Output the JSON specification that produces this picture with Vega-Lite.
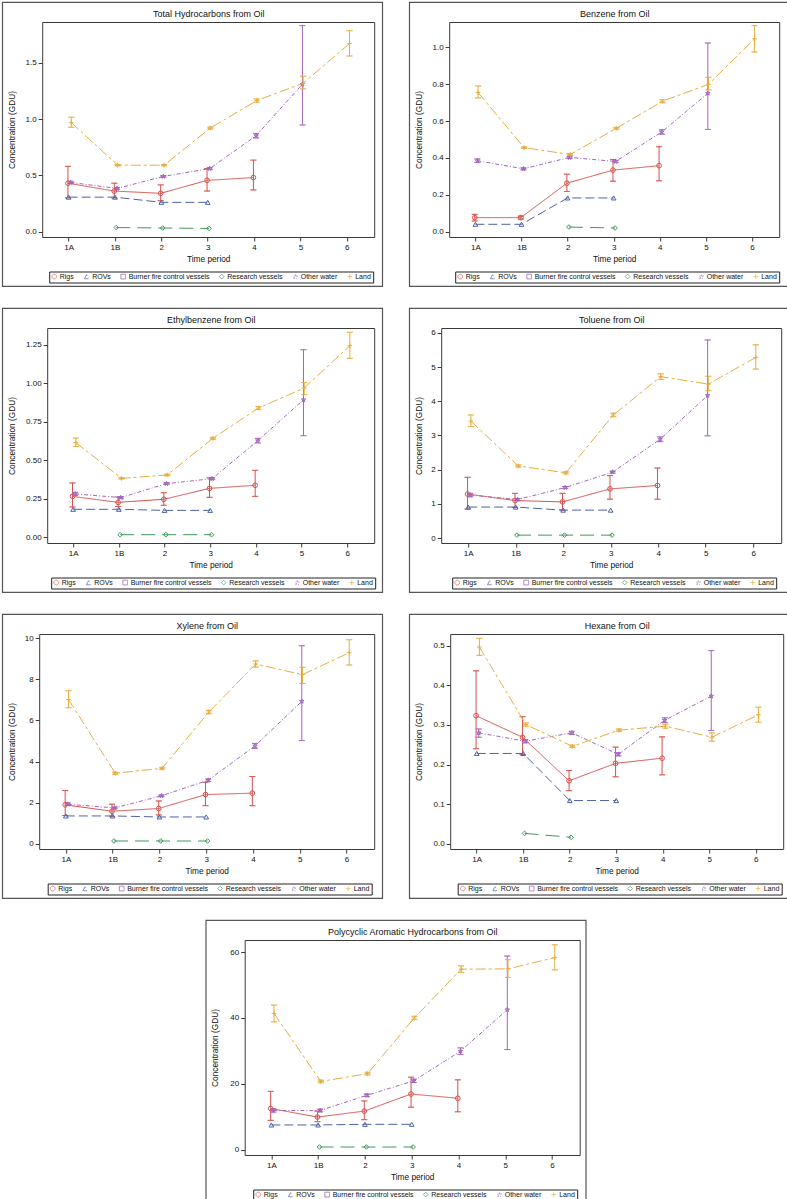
{
"$schema":"https://vega.github.io/schema/vega-lite/v6.json",
"padding":{"left":1,"top":1,"right":0,"bottom":0},
"background":"white",
"config":{
 "font":"Liberation Sans",
 "view":{"stroke":"#555","strokeWidth":1.2},
 "axis":{"labelFont":"Liberation Sans","titleFont":"Liberation Sans","labelFontSize":8,"titleFontSize":8.3,"titleFontWeight":"normal","labelColor":"#111","titleColor":"#111","domainColor":"#3a3a3a","tickColor":"#3a3a3a","tickSize":4,"labelPadding":2,"titlePadding":3,"grid":false,"domainWidth":1},
 "legend":{"labelFont":"Liberation Sans","labelFontSize":7,"labelColor":"#111"}
},
"datasets":{"rows":[
{"p":"TH","t":"1A","s":"Rigs","v":0.43,"lo":0.30,"hi":0.58},
{"p":"TH","t":"1B","s":"Rigs","v":0.36,"lo":0.30,"hi":0.43},
{"p":"TH","t":"2","s":"Rigs","v":0.34,"lo":0.275,"hi":0.415},
{"p":"TH","t":"3","s":"Rigs","v":0.455,"lo":0.36,"hi":0.56},
{"p":"TH","t":"4","s":"Rigs","v":0.48,"lo":0.37,"hi":0.635},
{"p":"TH","t":"1A","s":"ROVs","v":0.306},
{"p":"TH","t":"1B","s":"ROVs","v":0.306},
{"p":"TH","t":"2","s":"ROVs","v":0.26},
{"p":"TH","t":"3","s":"ROVs","v":0.26},
{"p":"TH","t":"1B","s":"Research vessels","v":0.036},
{"p":"TH","t":"2","s":"Research vessels","v":0.032},
{"p":"TH","t":"3","s":"Research vessels","v":0.028},
{"p":"TH","t":"1A","s":"Other water","v":0.437,"lo":0.427,"hi":0.447},
{"p":"TH","t":"1B","s":"Other water","v":0.383,"lo":0.376,"hi":0.39},
{"p":"TH","t":"2","s":"Other water","v":0.49,"lo":0.483,"hi":0.497},
{"p":"TH","t":"3","s":"Other water","v":0.56,"lo":0.552,"hi":0.568},
{"p":"TH","t":"4","s":"Other water","v":0.852,"lo":0.832,"hi":0.872},
{"p":"TH","t":"5","s":"Other water","v":1.31,"lo":0.947,"hi":1.83},
{"p":"TH","t":"1A","s":"Land","v":0.968,"lo":0.927,"hi":1.016},
{"p":"TH","t":"1B","s":"Land","v":0.59,"lo":0.584,"hi":0.596},
{"p":"TH","t":"2","s":"Land","v":0.59,"lo":0.584,"hi":0.596},
{"p":"TH","t":"3","s":"Land","v":0.92,"lo":0.912,"hi":0.928},
{"p":"TH","t":"4","s":"Land","v":1.164,"lo":1.15,"hi":1.178},
{"p":"TH","t":"5","s":"Land","v":1.318,"lo":1.268,"hi":1.38},
{"p":"TH","t":"6","s":"Land","v":1.67,"lo":1.56,"hi":1.785},

{"p":"BZ","t":"1A","s":"Rigs","v":0.076,"lo":0.058,"hi":0.094},
{"p":"BZ","t":"1B","s":"Rigs","v":0.076,"lo":0.068,"hi":0.084},
{"p":"BZ","t":"2","s":"Rigs","v":0.263,"lo":0.218,"hi":0.312},
{"p":"BZ","t":"3","s":"Rigs","v":0.334,"lo":0.274,"hi":0.392},
{"p":"BZ","t":"4","s":"Rigs","v":0.358,"lo":0.276,"hi":0.461},
{"p":"BZ","t":"1A","s":"ROVs","v":0.04},
{"p":"BZ","t":"1B","s":"ROVs","v":0.04},
{"p":"BZ","t":"2","s":"ROVs","v":0.183},
{"p":"BZ","t":"3","s":"ROVs","v":0.183},
{"p":"BZ","t":"2","s":"Research vessels","v":0.025},
{"p":"BZ","t":"3","s":"Research vessels","v":0.02},
{"p":"BZ","t":"1A","s":"Other water","v":0.385,"lo":0.375,"hi":0.395},
{"p":"BZ","t":"1B","s":"Other water","v":0.341,"lo":0.336,"hi":0.346},
{"p":"BZ","t":"2","s":"Other water","v":0.403,"lo":0.397,"hi":0.409},
{"p":"BZ","t":"3","s":"Other water","v":0.381,"lo":0.375,"hi":0.387},
{"p":"BZ","t":"4","s":"Other water","v":0.541,"lo":0.529,"hi":0.553},
{"p":"BZ","t":"5","s":"Other water","v":0.751,"lo":0.555,"hi":1.024},
{"p":"BZ","t":"1A","s":"Land","v":0.755,"lo":0.726,"hi":0.791},
{"p":"BZ","t":"1B","s":"Land","v":0.456,"lo":0.452,"hi":0.46},
{"p":"BZ","t":"2","s":"Land","v":0.419,"lo":0.414,"hi":0.424},
{"p":"BZ","t":"3","s":"Land","v":0.561,"lo":0.556,"hi":0.566},
{"p":"BZ","t":"4","s":"Land","v":0.708,"lo":0.7,"hi":0.716},
{"p":"BZ","t":"5","s":"Land","v":0.80,"lo":0.77,"hi":0.838},
{"p":"BZ","t":"6","s":"Land","v":1.047,"lo":0.975,"hi":1.118},

{"p":"EB","t":"1A","s":"Rigs","v":0.266,"lo":0.197,"hi":0.353},
{"p":"EB","t":"1B","s":"Rigs","v":0.227,"lo":0.2,"hi":0.262},
{"p":"EB","t":"2","s":"Rigs","v":0.247,"lo":0.208,"hi":0.29},
{"p":"EB","t":"3","s":"Rigs","v":0.318,"lo":0.26,"hi":0.386},
{"p":"EB","t":"4","s":"Rigs","v":0.338,"lo":0.266,"hi":0.435},
{"p":"EB","t":"1A","s":"ROVs","v":0.182},
{"p":"EB","t":"1B","s":"ROVs","v":0.182},
{"p":"EB","t":"2","s":"ROVs","v":0.175},
{"p":"EB","t":"3","s":"ROVs","v":0.175},
{"p":"EB","t":"1B","s":"Research vessels","v":0.017},
{"p":"EB","t":"2","s":"Research vessels","v":0.017},
{"p":"EB","t":"3","s":"Research vessels","v":0.017},
{"p":"EB","t":"1A","s":"Other water","v":0.282,"lo":0.272,"hi":0.292},
{"p":"EB","t":"1B","s":"Other water","v":0.258,"lo":0.252,"hi":0.264},
{"p":"EB","t":"2","s":"Other water","v":0.349,"lo":0.344,"hi":0.354},
{"p":"EB","t":"3","s":"Other water","v":0.381,"lo":0.375,"hi":0.387},
{"p":"EB","t":"4","s":"Other water","v":0.628,"lo":0.613,"hi":0.643},
{"p":"EB","t":"5","s":"Other water","v":0.894,"lo":0.66,"hi":1.219},
{"p":"EB","t":"1A","s":"Land","v":0.615,"lo":0.59,"hi":0.645},
{"p":"EB","t":"1B","s":"Land","v":0.383,"lo":0.379,"hi":0.387},
{"p":"EB","t":"2","s":"Land","v":0.405,"lo":0.4,"hi":0.41},
{"p":"EB","t":"3","s":"Land","v":0.643,"lo":0.637,"hi":0.649},
{"p":"EB","t":"4","s":"Land","v":0.84,"lo":0.83,"hi":0.85},
{"p":"EB","t":"5","s":"Land","v":0.97,"lo":0.927,"hi":1.005},
{"p":"EB","t":"6","s":"Land","v":1.245,"lo":1.163,"hi":1.332},

{"p":"TO","t":"1A","s":"Rigs","v":1.29,"lo":0.85,"hi":1.78},
{"p":"TO","t":"1B","s":"Rigs","v":1.10,"lo":0.9,"hi":1.31},
{"p":"TO","t":"2","s":"Rigs","v":1.06,"lo":0.82,"hi":1.31},
{"p":"TO","t":"3","s":"Rigs","v":1.44,"lo":1.14,"hi":1.83},
{"p":"TO","t":"4","s":"Rigs","v":1.54,"lo":1.14,"hi":2.05},
{"p":"TO","t":"1A","s":"ROVs","v":0.91},
{"p":"TO","t":"1B","s":"ROVs","v":0.91},
{"p":"TO","t":"2","s":"ROVs","v":0.82},
{"p":"TO","t":"3","s":"ROVs","v":0.82},
{"p":"TO","t":"1B","s":"Research vessels","v":0.09},
{"p":"TO","t":"2","s":"Research vessels","v":0.09},
{"p":"TO","t":"3","s":"Research vessels","v":0.09},
{"p":"TO","t":"1A","s":"Other water","v":1.26,"lo":1.21,"hi":1.31},
{"p":"TO","t":"1B","s":"Other water","v":1.13,"lo":1.1,"hi":1.16},
{"p":"TO","t":"2","s":"Other water","v":1.48,"lo":1.45,"hi":1.51},
{"p":"TO","t":"3","s":"Other water","v":1.93,"lo":1.9,"hi":1.96},
{"p":"TO","t":"4","s":"Other water","v":2.89,"lo":2.82,"hi":2.96},
{"p":"TO","t":"5","s":"Other water","v":4.17,"lo":2.99,"hi":5.79},
{"p":"TO","t":"1A","s":"Land","v":3.42,"lo":3.26,"hi":3.6},
{"p":"TO","t":"1B","s":"Land","v":2.11,"lo":2.08,"hi":2.14},
{"p":"TO","t":"2","s":"Land","v":1.91,"lo":1.88,"hi":1.94},
{"p":"TO","t":"3","s":"Land","v":3.6,"lo":3.55,"hi":3.65},
{"p":"TO","t":"4","s":"Land","v":4.72,"lo":4.64,"hi":4.8},
{"p":"TO","t":"5","s":"Land","v":4.5,"lo":4.31,"hi":4.73},
{"p":"TO","t":"6","s":"Land","v":5.28,"lo":4.94,"hi":5.65},

{"p":"XY","t":"1A","s":"Rigs","v":1.89,"lo":1.37,"hi":2.59},
{"p":"XY","t":"1B","s":"Rigs","v":1.58,"lo":1.33,"hi":1.92},
{"p":"XY","t":"2","s":"Rigs","v":1.71,"lo":1.40,"hi":2.08},
{"p":"XY","t":"3","s":"Rigs","v":2.39,"lo":1.85,"hi":2.99},
{"p":"XY","t":"4","s":"Rigs","v":2.46,"lo":1.85,"hi":3.27},
{"p":"XY","t":"1A","s":"ROVs","v":1.35},
{"p":"XY","t":"1B","s":"ROVs","v":1.35},
{"p":"XY","t":"2","s":"ROVs","v":1.30},
{"p":"XY","t":"3","s":"ROVs","v":1.30},
{"p":"XY","t":"1B","s":"Research vessels","v":0.13},
{"p":"XY","t":"2","s":"Research vessels","v":0.13},
{"p":"XY","t":"3","s":"Research vessels","v":0.13},
{"p":"XY","t":"1A","s":"Other water","v":1.92,"lo":1.86,"hi":1.98},
{"p":"XY","t":"1B","s":"Other water","v":1.74,"lo":1.7,"hi":1.78},
{"p":"XY","t":"2","s":"Other water","v":2.33,"lo":2.29,"hi":2.37},
{"p":"XY","t":"3","s":"Other water","v":3.09,"lo":3.03,"hi":3.15},
{"p":"XY","t":"4","s":"Other water","v":4.76,"lo":4.64,"hi":4.88},
{"p":"XY","t":"5","s":"Other water","v":6.93,"lo":5.02,"hi":9.64},
{"p":"XY","t":"1A","s":"Land","v":7.02,"lo":6.62,"hi":7.45},
{"p":"XY","t":"1B","s":"Land","v":3.43,"lo":3.38,"hi":3.48},
{"p":"XY","t":"2","s":"Land","v":3.67,"lo":3.62,"hi":3.72},
{"p":"XY","t":"3","s":"Land","v":6.41,"lo":6.33,"hi":6.49},
{"p":"XY","t":"4","s":"Land","v":8.75,"lo":8.6,"hi":8.9},
{"p":"XY","t":"5","s":"Land","v":8.23,"lo":7.8,"hi":8.59},
{"p":"XY","t":"6","s":"Land","v":9.3,"lo":8.7,"hi":9.93},

{"p":"HX","t":"1A","s":"Rigs","v":0.3235,"lo":0.24,"hi":0.437},
{"p":"HX","t":"1B","s":"Rigs","v":0.269,"lo":0.225,"hi":0.321},
{"p":"HX","t":"2","s":"Rigs","v":0.159,"lo":0.134,"hi":0.185},
{"p":"HX","t":"3","s":"Rigs","v":0.203,"lo":0.169,"hi":0.244},
{"p":"HX","t":"4","s":"Rigs","v":0.216,"lo":0.174,"hi":0.27},
{"p":"HX","t":"1A","s":"ROVs","v":0.228},
{"p":"HX","t":"1B","s":"ROVs","v":0.228},
{"p":"HX","t":"2","s":"ROVs","v":0.109},
{"p":"HX","t":"3","s":"ROVs","v":0.109},
{"p":"HX","t":"1B","s":"Research vessels","v":0.026},
{"p":"HX","t":"2","s":"Research vessels","v":0.016},
{"p":"HX","t":"1A","s":"Other water","v":0.28,"lo":0.269,"hi":0.29},
{"p":"HX","t":"1B","s":"Other water","v":0.259,"lo":0.255,"hi":0.263},
{"p":"HX","t":"2","s":"Other water","v":0.28,"lo":0.276,"hi":0.284},
{"p":"HX","t":"3","s":"Other water","v":0.226,"lo":0.222,"hi":0.23},
{"p":"HX","t":"4","s":"Other water","v":0.312,"lo":0.306,"hi":0.318},
{"p":"HX","t":"5","s":"Other water","v":0.373,"lo":0.286,"hi":0.488},
{"p":"HX","t":"1A","s":"Land","v":0.497,"lo":0.476,"hi":0.519},
{"p":"HX","t":"1B","s":"Land","v":0.301,"lo":0.297,"hi":0.305},
{"p":"HX","t":"2","s":"Land","v":0.246,"lo":0.243,"hi":0.249},
{"p":"HX","t":"3","s":"Land","v":0.287,"lo":0.284,"hi":0.29},
{"p":"HX","t":"4","s":"Land","v":0.297,"lo":0.292,"hi":0.302},
{"p":"HX","t":"5","s":"Land","v":0.269,"lo":0.259,"hi":0.28},
{"p":"HX","t":"6","s":"Land","v":0.326,"lo":0.307,"hi":0.345},

{"p":"PAH","t":"1A","s":"Rigs","v":12.5,"lo":8.9,"hi":17.7},
{"p":"PAH","t":"1B","s":"Rigs","v":9.9,"lo":8.5,"hi":11.7},
{"p":"PAH","t":"2","s":"Rigs","v":11.7,"lo":9.1,"hi":14.8},
{"p":"PAH","t":"3","s":"Rigs","v":16.9,"lo":12.9,"hi":22.0},
{"p":"PAH","t":"4","s":"Rigs","v":15.6,"lo":11.5,"hi":21.2},
{"p":"PAH","t":"1A","s":"ROVs","v":7.5},
{"p":"PAH","t":"1B","s":"ROVs","v":7.5},
{"p":"PAH","t":"2","s":"ROVs","v":7.7},
{"p":"PAH","t":"3","s":"ROVs","v":7.7},
{"p":"PAH","t":"1B","s":"Research vessels","v":0.8},
{"p":"PAH","t":"2","s":"Research vessels","v":0.8},
{"p":"PAH","t":"3","s":"Research vessels","v":0.8},
{"p":"PAH","t":"1A","s":"Other water","v":11.9,"lo":11.4,"hi":12.4},
{"p":"PAH","t":"1B","s":"Other water","v":11.9,"lo":11.5,"hi":12.3},
{"p":"PAH","t":"2","s":"Other water","v":16.5,"lo":16.1,"hi":16.9},
{"p":"PAH","t":"3","s":"Other water","v":20.9,"lo":20.4,"hi":21.4},
{"p":"PAH","t":"4","s":"Other water","v":29.9,"lo":28.9,"hi":30.9},
{"p":"PAH","t":"5","s":"Other water","v":42.5,"lo":30.4,"hi":58.8},
{"p":"PAH","t":"1A","s":"Land","v":41.4,"lo":38.8,"hi":43.9},
{"p":"PAH","t":"1B","s":"Land","v":20.7,"lo":20.3,"hi":21.1},
{"p":"PAH","t":"2","s":"Land","v":23.1,"lo":22.7,"hi":23.5},
{"p":"PAH","t":"3","s":"Land","v":40.0,"lo":39.5,"hi":40.5},
{"p":"PAH","t":"4","s":"Land","v":54.8,"lo":53.8,"hi":55.8},
{"p":"PAH","t":"5","s":"Land","v":54.9,"lo":52.3,"hi":57.7},
{"p":"PAH","t":"6","s":"Land","v":58.3,"lo":54.6,"hi":62.2}
]},
"vconcat":[
{"hconcat":[
{"width":380,"height":284,"data":{"name":"rows"},"transform":[{"filter":"datum.p == 'TH'"}],
 "resolve":{"axis":{"x":"independent","y":"independent"}},
 "encoding":{
  "x":{"field":"t","type":"ordinal","scale":{"type":"band","domain":["1A","1B","2","3","4","5","6"],"range":[40,372],"paddingInner":0,"paddingOuter":0.08},"axis":null},
  "xOffset":{"field":"s","type":"nominal","scale":{"type":"point","domain":["Rigs","ROVs","Burner fire control vessels","Research vessels","Other water","Land"],"range":[21.7,25.7]}},
  "y":{"field":"v","type":"quantitative","scale":{"domain":[-0.048,1.862],"range":[235,20],"nice":false,"zero":false},"axis":null},
  "color":{"field":"s","type":"nominal","scale":{"domain":["Rigs","ROVs","Burner fire control vessels","Research vessels","Other water","Land"],"range":["#d6504b","#4c62aa","#8f4fa8","#3e9a5b","#a266bf","#e8ad3f"]},"legend":{"orient":"none","legendX":47,"legendY":269.5,"direction":"horizontal","title":null,"symbolSize":22,"symbolStrokeWidth":1,"labelOffset":2,"columnPadding":7.5,"padding":1.5,"strokeColor":"#222"}}},
 "layer":[
  {"transform":[{"filter":"datum.lo != null"}],"mark":{"type":"rule","strokeWidth":1},
   "encoding":{"x":{"field":"t","type":"ordinal","scale":{"type":"band","domain":["1A","1B","2","3","4","5","6"],"range":[40,372],"paddingInner":0,"paddingOuter":0.08},"axis":{"orient":"bottom","offset":-49,"title":"Time period","labelAngle":0}},
    "y":{"field":"lo","type":"quantitative","scale":{"domain":[-0.048,1.862],"range":[235,20],"nice":false,"zero":false},"axis":{"orient":"left","offset":-40,"title":"Concentration (GDU)","values":[0,0.5,1,1.5],"format":".1f","titleX":-26}},
    "y2":{"field":"hi"}}},
  {"transform":[{"filter":"datum.lo != null"},{"fold":["lo","hi"],"as":["k","e"]}],"mark":{"type":"tick","orient":"horizontal","size":6,"thickness":0,"filled":false,"strokeWidth":1},
   "encoding":{"y":{"field":"e","type":"quantitative","scale":{"domain":[-0.048,1.862],"range":[235,20],"nice":false,"zero":false},"axis":null}}},
  {"mark":{"type":"line","strokeWidth":1},"encoding":{"strokeDash":{"field":"s","type":"nominal","scale":{"domain":["Rigs","ROVs","Burner fire control vessels","Research vessels","Other water","Land"],"range":[[1,0],[9,4],[1,0],[14,7],[4,2,1,2],[10,3,3,3]]},"legend":null}}},
  {"mark":{"type":"point","filled":false,"size":22,"strokeWidth":1,"opacity":1},
   "encoding":{"x":{"field":"t","type":"ordinal","scale":{"type":"band","domain":["1A","1B","2","3","4","5","6"],"range":[40,372],"paddingInner":0,"paddingOuter":0.08},"axis":{"orient":"top","offset":-20,"title":"Total Hydrocarbons from Oil","labels":false,"ticks":false,"titleFontSize":9,"titlePadding":4}},
    "y":{"field":"v","type":"quantitative","scale":{"domain":[-0.048,1.862],"range":[235,20],"nice":false,"zero":false},"axis":{"orient":"right","offset":-8,"title":null,"labels":false,"ticks":false}},
    "shape":{"field":"s","type":"nominal","scale":{"domain":["Rigs","ROVs","Burner fire control vessels","Research vessels","Other water","Land"],"range":["circle","triangle-up","square","diamond","M0,-1L0.2245,-0.309L0.9511,-0.309L0.3633,0.118L0.5878,0.809L0,0.382L-0.5878,0.809L-0.3633,0.118L-0.9511,-0.309L-0.2245,-0.309Z","M-1,0L1,0M0,-1L0,1"]},"legend":{"orient":"none","legendX":47,"legendY":269.5,"direction":"horizontal","title":null,"symbolSize":22,"symbolStrokeWidth":1,"labelOffset":2,"columnPadding":7.5,"padding":1.5,"strokeColor":"#222"}}}}
 ]},
{"width":380,"height":284,"data":{"name":"rows"},"transform":[{"filter":"datum.p == 'BZ'"}],
 "resolve":{"axis":{"x":"independent","y":"independent"}},
 "encoding":{
  "x":{"field":"t","type":"ordinal","scale":{"type":"band","domain":["1A","1B","2","3","4","5","6"],"range":[40,370],"paddingInner":0,"paddingOuter":0.08},"axis":null},
  "xOffset":{"field":"s","type":"nominal","scale":{"type":"point","domain":["Rigs","ROVs","Burner fire control vessels","Research vessels","Other water","Land"],"range":[21.5,25.5]}},
  "y":{"field":"v","type":"quantitative","scale":{"domain":[-0.029,1.138],"range":[235,20],"nice":false,"zero":false},"axis":null},
  "color":{"field":"s","type":"nominal","scale":{"domain":["Rigs","ROVs","Burner fire control vessels","Research vessels","Other water","Land"],"range":["#d6504b","#4c62aa","#8f4fa8","#3e9a5b","#a266bf","#e8ad3f"]},"legend":{"orient":"none","legendX":46,"legendY":269.5,"direction":"horizontal","title":null,"symbolSize":22,"symbolStrokeWidth":1,"labelOffset":2,"columnPadding":7.5,"padding":1.5,"strokeColor":"#222"}}},
 "layer":[
  {"transform":[{"filter":"datum.lo != null"}],"mark":{"type":"rule","strokeWidth":1},
   "encoding":{"x":{"field":"t","type":"ordinal","scale":{"type":"band","domain":["1A","1B","2","3","4","5","6"],"range":[40,370],"paddingInner":0,"paddingOuter":0.08},"axis":{"orient":"bottom","offset":-49,"title":"Time period","labelAngle":0}},
    "y":{"field":"lo","type":"quantitative","scale":{"domain":[-0.029,1.138],"range":[235,20],"nice":false,"zero":false},"axis":{"orient":"left","offset":-40,"title":"Concentration (GDU)","values":[0,0.2,0.4,0.6,0.8,1.0],"format":".1f","titleX":-26}},
    "y2":{"field":"hi"}}},
  {"transform":[{"filter":"datum.lo != null"},{"fold":["lo","hi"],"as":["k","e"]}],"mark":{"type":"tick","orient":"horizontal","size":6,"thickness":0,"filled":false,"strokeWidth":1},
   "encoding":{"y":{"field":"e","type":"quantitative","scale":{"domain":[-0.029,1.138],"range":[235,20],"nice":false,"zero":false},"axis":null}}},
  {"mark":{"type":"line","strokeWidth":1},"encoding":{"strokeDash":{"field":"s","type":"nominal","scale":{"domain":["Rigs","ROVs","Burner fire control vessels","Research vessels","Other water","Land"],"range":[[1,0],[9,4],[1,0],[14,7],[4,2,1,2],[10,3,3,3]]},"legend":null}}},
  {"mark":{"type":"point","filled":false,"size":22,"strokeWidth":1,"opacity":1},
   "encoding":{"x":{"field":"t","type":"ordinal","scale":{"type":"band","domain":["1A","1B","2","3","4","5","6"],"range":[40,370],"paddingInner":0,"paddingOuter":0.08},"axis":{"orient":"top","offset":-20,"title":"Benzene from Oil","labels":false,"ticks":false,"titleFontSize":9,"titlePadding":4}},
    "y":{"field":"v","type":"quantitative","scale":{"domain":[-0.029,1.138],"range":[235,20],"nice":false,"zero":false},"axis":{"orient":"right","offset":-10,"title":null,"labels":false,"ticks":false}},
    "shape":{"field":"s","type":"nominal","scale":{"domain":["Rigs","ROVs","Burner fire control vessels","Research vessels","Other water","Land"],"range":["circle","triangle-up","square","diamond","M0,-1L0.2245,-0.309L0.9511,-0.309L0.3633,0.118L0.5878,0.809L0,0.382L-0.5878,0.809L-0.3633,0.118L-0.9511,-0.309L-0.2245,-0.309Z","M-1,0L1,0M0,-1L0,1"]},"legend":{"orient":"none","legendX":46,"legendY":269.5,"direction":"horizontal","title":null,"symbolSize":22,"symbolStrokeWidth":1,"labelOffset":2,"columnPadding":7.5,"padding":1.5,"strokeColor":"#222"}}}}
 ]}
],"spacing":25,"resolve":{"scale":{"color":"independent","shape":"independent","strokeDash":"independent","xOffset":"independent"},"legend":{"color":"independent","shape":"independent"}}},
{"hconcat":[
{"width":380,"height":284,"data":{"name":"rows"},"transform":[{"filter":"datum.p == 'EB'"}],
 "resolve":{"axis":{"x":"independent","y":"independent"}},
 "encoding":{
  "x":{"field":"t","type":"ordinal","scale":{"type":"band","domain":["1A","1B","2","3","4","5","6"],"range":[45,372],"paddingInner":0,"paddingOuter":0.08},"axis":null},
  "xOffset":{"field":"s","type":"nominal","scale":{"type":"point","domain":["Rigs","ROVs","Burner fire control vessels","Research vessels","Other water","Land"],"range":[21.3,25.3]}},
  "y":{"field":"v","type":"quantitative","scale":{"domain":[-0.037,1.36],"range":[235,20],"nice":false,"zero":false},"axis":null},
  "color":{"field":"s","type":"nominal","scale":{"domain":["Rigs","ROVs","Burner fire control vessels","Research vessels","Other water","Land"],"range":["#d6504b","#4c62aa","#8f4fa8","#3e9a5b","#a266bf","#e8ad3f"]},"legend":{"orient":"none","legendX":49,"legendY":269.5,"direction":"horizontal","title":null,"symbolSize":22,"symbolStrokeWidth":1,"labelOffset":2,"columnPadding":7.5,"padding":1.5,"strokeColor":"#222"}}},
 "layer":[
  {"transform":[{"filter":"datum.lo != null"}],"mark":{"type":"rule","strokeWidth":1},
   "encoding":{"x":{"field":"t","type":"ordinal","scale":{"type":"band","domain":["1A","1B","2","3","4","5","6"],"range":[45,372],"paddingInner":0,"paddingOuter":0.08},"axis":{"orient":"bottom","offset":-49,"title":"Time period","labelAngle":0}},
    "y":{"field":"lo","type":"quantitative","scale":{"domain":[-0.037,1.36],"range":[235,20],"nice":false,"zero":false},"axis":{"orient":"left","offset":-45,"title":"Concentration (GDU)","values":[0,0.25,0.5,0.75,1,1.25],"format":".2f","titleX":-31}},
    "y2":{"field":"hi"}}},
  {"transform":[{"filter":"datum.lo != null"},{"fold":["lo","hi"],"as":["k","e"]}],"mark":{"type":"tick","orient":"horizontal","size":6,"thickness":0,"filled":false,"strokeWidth":1},
   "encoding":{"y":{"field":"e","type":"quantitative","scale":{"domain":[-0.037,1.36],"range":[235,20],"nice":false,"zero":false},"axis":null}}},
  {"mark":{"type":"line","strokeWidth":1},"encoding":{"strokeDash":{"field":"s","type":"nominal","scale":{"domain":["Rigs","ROVs","Burner fire control vessels","Research vessels","Other water","Land"],"range":[[1,0],[9,4],[1,0],[14,7],[4,2,1,2],[10,3,3,3]]},"legend":null}}},
  {"mark":{"type":"point","filled":false,"size":22,"strokeWidth":1,"opacity":1},
   "encoding":{"x":{"field":"t","type":"ordinal","scale":{"type":"band","domain":["1A","1B","2","3","4","5","6"],"range":[45,372],"paddingInner":0,"paddingOuter":0.08},"axis":{"orient":"top","offset":-20,"title":"Ethylbenzene from Oil","labels":false,"ticks":false,"titleFontSize":9,"titlePadding":4}},
    "y":{"field":"v","type":"quantitative","scale":{"domain":[-0.037,1.36],"range":[235,20],"nice":false,"zero":false},"axis":{"orient":"right","offset":-8,"title":null,"labels":false,"ticks":false}},
    "shape":{"field":"s","type":"nominal","scale":{"domain":["Rigs","ROVs","Burner fire control vessels","Research vessels","Other water","Land"],"range":["circle","triangle-up","square","diamond","M0,-1L0.2245,-0.309L0.9511,-0.309L0.3633,0.118L0.5878,0.809L0,0.382L-0.5878,0.809L-0.3633,0.118L-0.9511,-0.309L-0.2245,-0.309Z","M-1,0L1,0M0,-1L0,1"]},"legend":{"orient":"none","legendX":49,"legendY":269.5,"direction":"horizontal","title":null,"symbolSize":22,"symbolStrokeWidth":1,"labelOffset":2,"columnPadding":7.5,"padding":1.5,"strokeColor":"#222"}}}}
 ]},
{"width":380,"height":284,"data":{"name":"rows"},"transform":[{"filter":"datum.p == 'TO'"}],
 "resolve":{"axis":{"x":"independent","y":"independent"}},
 "encoding":{
  "x":{"field":"t","type":"ordinal","scale":{"type":"band","domain":["1A","1B","2","3","4","5","6"],"range":[32,372],"paddingInner":0,"paddingOuter":0.08},"axis":null},
  "xOffset":{"field":"s","type":"nominal","scale":{"type":"point","domain":["Rigs","ROVs","Burner fire control vessels","Research vessels","Other water","Land"],"range":[22.2,26.2]}},
  "y":{"field":"v","type":"quantitative","scale":{"domain":[-0.14,6.14],"range":[235,20],"nice":false,"zero":false},"axis":null},
  "color":{"field":"s","type":"nominal","scale":{"domain":["Rigs","ROVs","Burner fire control vessels","Research vessels","Other water","Land"],"range":["#d6504b","#4c62aa","#8f4fa8","#3e9a5b","#a266bf","#e8ad3f"]},"legend":{"orient":"none","legendX":43,"legendY":269.5,"direction":"horizontal","title":null,"symbolSize":22,"symbolStrokeWidth":1,"labelOffset":2,"columnPadding":7.5,"padding":1.5,"strokeColor":"#222"}}},
 "layer":[
  {"transform":[{"filter":"datum.lo != null"}],"mark":{"type":"rule","strokeWidth":1},
   "encoding":{"x":{"field":"t","type":"ordinal","scale":{"type":"band","domain":["1A","1B","2","3","4","5","6"],"range":[32,372],"paddingInner":0,"paddingOuter":0.08},"axis":{"orient":"bottom","offset":-49,"title":"Time period","labelAngle":0}},
    "y":{"field":"lo","type":"quantitative","scale":{"domain":[-0.14,6.14],"range":[235,20],"nice":false,"zero":false},"axis":{"orient":"left","offset":-32,"title":"Concentration (GDU)","values":[0,1,2,3,4,5,6],"format":"d","titleX":-18}},
    "y2":{"field":"hi"}}},
  {"transform":[{"filter":"datum.lo != null"},{"fold":["lo","hi"],"as":["k","e"]}],"mark":{"type":"tick","orient":"horizontal","size":6,"thickness":0,"filled":false,"strokeWidth":1},
   "encoding":{"y":{"field":"e","type":"quantitative","scale":{"domain":[-0.14,6.14],"range":[235,20],"nice":false,"zero":false},"axis":null}}},
  {"mark":{"type":"line","strokeWidth":1},"encoding":{"strokeDash":{"field":"s","type":"nominal","scale":{"domain":["Rigs","ROVs","Burner fire control vessels","Research vessels","Other water","Land"],"range":[[1,0],[9,4],[1,0],[14,7],[4,2,1,2],[10,3,3,3]]},"legend":null}}},
  {"mark":{"type":"point","filled":false,"size":22,"strokeWidth":1,"opacity":1},
   "encoding":{"x":{"field":"t","type":"ordinal","scale":{"type":"band","domain":["1A","1B","2","3","4","5","6"],"range":[32,372],"paddingInner":0,"paddingOuter":0.08},"axis":{"orient":"top","offset":-20,"title":"Toluene from Oil","labels":false,"ticks":false,"titleFontSize":9,"titlePadding":4}},
    "y":{"field":"v","type":"quantitative","scale":{"domain":[-0.14,6.14],"range":[235,20],"nice":false,"zero":false},"axis":{"orient":"right","offset":-8,"title":null,"labels":false,"ticks":false}},
    "shape":{"field":"s","type":"nominal","scale":{"domain":["Rigs","ROVs","Burner fire control vessels","Research vessels","Other water","Land"],"range":["circle","triangle-up","square","diamond","M0,-1L0.2245,-0.309L0.9511,-0.309L0.3633,0.118L0.5878,0.809L0,0.382L-0.5878,0.809L-0.3633,0.118L-0.9511,-0.309L-0.2245,-0.309Z","M-1,0L1,0M0,-1L0,1"]},"legend":{"orient":"none","legendX":43,"legendY":269.5,"direction":"horizontal","title":null,"symbolSize":22,"symbolStrokeWidth":1,"labelOffset":2,"columnPadding":7.5,"padding":1.5,"strokeColor":"#222"}}}}
 ]}
],"spacing":25,"resolve":{"scale":{"color":"independent","shape":"independent","strokeDash":"independent","xOffset":"independent"},"legend":{"color":"independent","shape":"independent"}}},
{"hconcat":[
{"width":380,"height":284,"data":{"name":"rows"},"transform":[{"filter":"datum.p == 'XY'"}],
 "resolve":{"axis":{"x":"independent","y":"independent"}},
 "encoding":{
  "x":{"field":"t","type":"ordinal","scale":{"type":"band","domain":["1A","1B","2","3","4","5","6"],"range":[37,372],"paddingInner":0,"paddingOuter":0.08},"axis":null},
  "xOffset":{"field":"s","type":"nominal","scale":{"type":"point","domain":["Rigs","ROVs","Burner fire control vessels","Research vessels","Other water","Land"],"range":[21.9,25.9]}},
  "y":{"field":"v","type":"quantitative","scale":{"domain":[-0.26,10.21],"range":[235,20],"nice":false,"zero":false},"axis":null},
  "color":{"field":"s","type":"nominal","scale":{"domain":["Rigs","ROVs","Burner fire control vessels","Research vessels","Other water","Land"],"range":["#d6504b","#4c62aa","#8f4fa8","#3e9a5b","#a266bf","#e8ad3f"]},"legend":{"orient":"none","legendX":45.5,"legendY":269.5,"direction":"horizontal","title":null,"symbolSize":22,"symbolStrokeWidth":1,"labelOffset":2,"columnPadding":7.5,"padding":1.5,"strokeColor":"#222"}}},
 "layer":[
  {"transform":[{"filter":"datum.lo != null"}],"mark":{"type":"rule","strokeWidth":1},
   "encoding":{"x":{"field":"t","type":"ordinal","scale":{"type":"band","domain":["1A","1B","2","3","4","5","6"],"range":[37,372],"paddingInner":0,"paddingOuter":0.08},"axis":{"orient":"bottom","offset":-49,"title":"Time period","labelAngle":0}},
    "y":{"field":"lo","type":"quantitative","scale":{"domain":[-0.26,10.21],"range":[235,20],"nice":false,"zero":false},"axis":{"orient":"left","offset":-37,"title":"Concentration (GDU)","values":[0,2,4,6,8,10],"format":"d","titleX":-23}},
    "y2":{"field":"hi"}}},
  {"transform":[{"filter":"datum.lo != null"},{"fold":["lo","hi"],"as":["k","e"]}],"mark":{"type":"tick","orient":"horizontal","size":6,"thickness":0,"filled":false,"strokeWidth":1},
   "encoding":{"y":{"field":"e","type":"quantitative","scale":{"domain":[-0.26,10.21],"range":[235,20],"nice":false,"zero":false},"axis":null}}},
  {"mark":{"type":"line","strokeWidth":1},"encoding":{"strokeDash":{"field":"s","type":"nominal","scale":{"domain":["Rigs","ROVs","Burner fire control vessels","Research vessels","Other water","Land"],"range":[[1,0],[9,4],[1,0],[14,7],[4,2,1,2],[10,3,3,3]]},"legend":null}}},
  {"mark":{"type":"point","filled":false,"size":22,"strokeWidth":1,"opacity":1},
   "encoding":{"x":{"field":"t","type":"ordinal","scale":{"type":"band","domain":["1A","1B","2","3","4","5","6"],"range":[37,372],"paddingInner":0,"paddingOuter":0.08},"axis":{"orient":"top","offset":-20,"title":"Xylene from Oil","labels":false,"ticks":false,"titleFontSize":9,"titlePadding":4}},
    "y":{"field":"v","type":"quantitative","scale":{"domain":[-0.26,10.21],"range":[235,20],"nice":false,"zero":false},"axis":{"orient":"right","offset":-8,"title":null,"labels":false,"ticks":false}},
    "shape":{"field":"s","type":"nominal","scale":{"domain":["Rigs","ROVs","Burner fire control vessels","Research vessels","Other water","Land"],"range":["circle","triangle-up","square","diamond","M0,-1L0.2245,-0.309L0.9511,-0.309L0.3633,0.118L0.5878,0.809L0,0.382L-0.5878,0.809L-0.3633,0.118L-0.9511,-0.309L-0.2245,-0.309Z","M-1,0L1,0M0,-1L0,1"]},"legend":{"orient":"none","legendX":45.5,"legendY":269.5,"direction":"horizontal","title":null,"symbolSize":22,"symbolStrokeWidth":1,"labelOffset":2,"columnPadding":7.5,"padding":1.5,"strokeColor":"#222"}}}}
 ]},
{"width":380,"height":284,"data":{"name":"rows"},"transform":[{"filter":"datum.p == 'HX'"}],
 "resolve":{"axis":{"x":"independent","y":"independent"}},
 "encoding":{
  "x":{"field":"t","type":"ordinal","scale":{"type":"band","domain":["1A","1B","2","3","4","5","6"],"range":[41,374],"paddingInner":0,"paddingOuter":0.08},"axis":null},
  "xOffset":{"field":"s","type":"nominal","scale":{"type":"point","domain":["Rigs","ROVs","Burner fire control vessels","Research vessels","Other water","Land"],"range":[21.8,25.8]}},
  "y":{"field":"v","type":"quantitative","scale":{"domain":[-0.0135,0.53],"range":[235,20],"nice":false,"zero":false},"axis":null},
  "color":{"field":"s","type":"nominal","scale":{"domain":["Rigs","ROVs","Burner fire control vessels","Research vessels","Other water","Land"],"range":["#d6504b","#4c62aa","#8f4fa8","#3e9a5b","#a266bf","#e8ad3f"]},"legend":{"orient":"none","legendX":48.5,"legendY":269.5,"direction":"horizontal","title":null,"symbolSize":22,"symbolStrokeWidth":1,"labelOffset":2,"columnPadding":7.5,"padding":1.5,"strokeColor":"#222"}}},
 "layer":[
  {"transform":[{"filter":"datum.lo != null"}],"mark":{"type":"rule","strokeWidth":1},
   "encoding":{"x":{"field":"t","type":"ordinal","scale":{"type":"band","domain":["1A","1B","2","3","4","5","6"],"range":[41,374],"paddingInner":0,"paddingOuter":0.08},"axis":{"orient":"bottom","offset":-49,"title":"Time period","labelAngle":0}},
    "y":{"field":"lo","type":"quantitative","scale":{"domain":[-0.0135,0.53],"range":[235,20],"nice":false,"zero":false},"axis":{"orient":"left","offset":-41,"title":"Concentration (GDU)","values":[0,0.1,0.2,0.3,0.4,0.5],"format":".1f","titleX":-27}},
    "y2":{"field":"hi"}}},
  {"transform":[{"filter":"datum.lo != null"},{"fold":["lo","hi"],"as":["k","e"]}],"mark":{"type":"tick","orient":"horizontal","size":6,"thickness":0,"filled":false,"strokeWidth":1},
   "encoding":{"y":{"field":"e","type":"quantitative","scale":{"domain":[-0.0135,0.53],"range":[235,20],"nice":false,"zero":false},"axis":null}}},
  {"mark":{"type":"line","strokeWidth":1},"encoding":{"strokeDash":{"field":"s","type":"nominal","scale":{"domain":["Rigs","ROVs","Burner fire control vessels","Research vessels","Other water","Land"],"range":[[1,0],[9,4],[1,0],[14,7],[4,2,1,2],[10,3,3,3]]},"legend":null}}},
  {"mark":{"type":"point","filled":false,"size":22,"strokeWidth":1,"opacity":1},
   "encoding":{"x":{"field":"t","type":"ordinal","scale":{"type":"band","domain":["1A","1B","2","3","4","5","6"],"range":[41,374],"paddingInner":0,"paddingOuter":0.08},"axis":{"orient":"top","offset":-20,"title":"Hexane from Oil","labels":false,"ticks":false,"titleFontSize":9,"titlePadding":4}},
    "y":{"field":"v","type":"quantitative","scale":{"domain":[-0.0135,0.53],"range":[235,20],"nice":false,"zero":false},"axis":{"orient":"right","offset":-6,"title":null,"labels":false,"ticks":false}},
    "shape":{"field":"s","type":"nominal","scale":{"domain":["Rigs","ROVs","Burner fire control vessels","Research vessels","Other water","Land"],"range":["circle","triangle-up","square","diamond","M0,-1L0.2245,-0.309L0.9511,-0.309L0.3633,0.118L0.5878,0.809L0,0.382L-0.5878,0.809L-0.3633,0.118L-0.9511,-0.309L-0.2245,-0.309Z","M-1,0L1,0M0,-1L0,1"]},"legend":{"orient":"none","legendX":48.5,"legendY":269.5,"direction":"horizontal","title":null,"symbolSize":22,"symbolStrokeWidth":1,"labelOffset":2,"columnPadding":7.5,"padding":1.5,"strokeColor":"#222"}}}}
 ]}
],"spacing":25,"resolve":{"scale":{"color":"independent","shape":"independent","strokeDash":"independent","xOffset":"independent"},"legend":{"color":"independent","shape":"independent"}}},
{"width":380,"height":284,"data":{"name":"rows"},"transform":[{"filter":"datum.p == 'PAH'"}],
 "resolve":{"axis":{"x":"independent","y":"independent"}},
 "encoding":{
  "x":{"field":"t","type":"ordinal","scale":{"type":"band","domain":["1A","1B","2","3","4","5","6"],"range":[39,374],"paddingInner":0,"paddingOuter":0.08},"axis":null},
  "xOffset":{"field":"s","type":"nominal","scale":{"type":"point","domain":["Rigs","ROVs","Burner fire control vessels","Research vessels","Other water","Land"],"range":[21.9,25.9]}},
  "y":{"field":"v","type":"quantitative","scale":{"domain":[-1.62,63.66],"range":[235,20],"nice":false,"zero":false},"axis":null},
  "color":{"field":"s","type":"nominal","scale":{"domain":["Rigs","ROVs","Burner fire control vessels","Research vessels","Other water","Land"],"range":["#d6504b","#4c62aa","#8f4fa8","#3e9a5b","#a266bf","#e8ad3f"]},"legend":{"orient":"none","legendX":47.5,"legendY":269.5,"direction":"horizontal","title":null,"symbolSize":22,"symbolStrokeWidth":1,"labelOffset":2,"columnPadding":7.5,"padding":1.5,"strokeColor":"#222"}}},
 "layer":[
  {"transform":[{"filter":"datum.lo != null"}],"mark":{"type":"rule","strokeWidth":1},
   "encoding":{"x":{"field":"t","type":"ordinal","scale":{"type":"band","domain":["1A","1B","2","3","4","5","6"],"range":[39,374],"paddingInner":0,"paddingOuter":0.08},"axis":{"orient":"bottom","offset":-49,"title":"Time period","labelAngle":0}},
    "y":{"field":"lo","type":"quantitative","scale":{"domain":[-1.62,63.66],"range":[235,20],"nice":false,"zero":false},"axis":{"orient":"left","offset":-39,"title":"Concentration (GDU)","values":[0,20,40,60],"format":"d","titleX":-25}},
    "y2":{"field":"hi"}}},
  {"transform":[{"filter":"datum.lo != null"},{"fold":["lo","hi"],"as":["k","e"]}],"mark":{"type":"tick","orient":"horizontal","size":6,"thickness":0,"filled":false,"strokeWidth":1},
   "encoding":{"y":{"field":"e","type":"quantitative","scale":{"domain":[-1.62,63.66],"range":[235,20],"nice":false,"zero":false},"axis":null}}},
  {"mark":{"type":"line","strokeWidth":1},"encoding":{"strokeDash":{"field":"s","type":"nominal","scale":{"domain":["Rigs","ROVs","Burner fire control vessels","Research vessels","Other water","Land"],"range":[[1,0],[9,4],[1,0],[14,7],[4,2,1,2],[10,3,3,3]]},"legend":null}}},
  {"mark":{"type":"point","filled":false,"size":22,"strokeWidth":1,"opacity":1},
   "encoding":{"x":{"field":"t","type":"ordinal","scale":{"type":"band","domain":["1A","1B","2","3","4","5","6"],"range":[39,374],"paddingInner":0,"paddingOuter":0.08},"axis":{"orient":"top","offset":-20,"title":"Polycyclic Aromatic Hydrocarbons from Oil","labels":false,"ticks":false,"titleFontSize":9,"titlePadding":4}},
    "y":{"field":"v","type":"quantitative","scale":{"domain":[-1.62,63.66],"range":[235,20],"nice":false,"zero":false},"axis":{"orient":"right","offset":-6,"title":null,"labels":false,"ticks":false}},
    "shape":{"field":"s","type":"nominal","scale":{"domain":["Rigs","ROVs","Burner fire control vessels","Research vessels","Other water","Land"],"range":["circle","triangle-up","square","diamond","M0,-1L0.2245,-0.309L0.9511,-0.309L0.3633,0.118L0.5878,0.809L0,0.382L-0.5878,0.809L-0.3633,0.118L-0.9511,-0.309L-0.2245,-0.309Z","M-1,0L1,0M0,-1L0,1"]},"legend":{"orient":"none","legendX":47.5,"legendY":269.5,"direction":"horizontal","title":null,"symbolSize":22,"symbolStrokeWidth":1,"labelOffset":2,"columnPadding":7.5,"padding":1.5,"strokeColor":"#222"}}}}
 ]}
],
"spacing":20,"center":true,
"resolve":{"scale":{"color":"independent","shape":"independent","strokeDash":"independent","xOffset":"independent"},"legend":{"color":"independent","shape":"independent"}}
}
